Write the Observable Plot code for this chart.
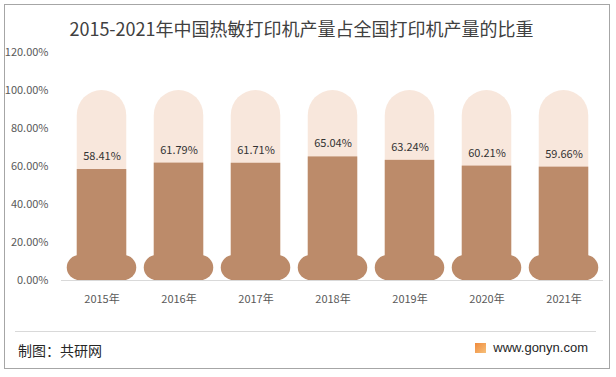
<!DOCTYPE html>
<html>
<head>
<meta charset="utf-8">
<script src="https://cdn.jsdelivr.net/npm/d3@7"></script>
<script src="https://cdn.jsdelivr.net/npm/@observablehq/plot@0.6"></script>
<style>
  body { margin: 0; background: #fff; font-family: "Noto Sans CJK SC", sans-serif; }
  #wrap { position: relative; width: 616px; height: 377px; overflow: hidden; background: #fff; }
  #frame { position: absolute; left: 4px; top: 4px; width: 606px; height: 365px; border: 1px solid #a6a6a6; box-sizing: border-box; }
  #title { position: absolute; left: 0; top: 15px; width: 603px; text-align: center; font-size: 18px; line-height: 26px; color: #404040; }
  #chart { position: absolute; left: 0; top: 40px; }
  #sep { position: absolute; left: 15px; top: 331px; width: 581px; border-top: 1px solid #d9d9d9; }
  #credit { position: absolute; left: 18px; top: 340px; font-size: 14px; line-height: 20px; color: #262626; }
  #site { position: absolute; right: 28px; top: 339px; font-size: 13px; line-height: 18px; color: #262626; font-family: "Liberation Sans", Arial, sans-serif; display: flex; align-items: center; }
  #logo { width: 11px; height: 10px; margin-right: 7px; background: linear-gradient(135deg, #f08a3c, #f6c07a); }
</style>
</head>
<body>
<div id="wrap">
  <div id="frame"></div>
  <div id="title">2015-2021年中国热敏打印机产量占全国打印机产量的比重</div>
  <div id="chart"></div>
  <div id="sep"></div>
  <div id="credit">制图：共研网</div>
  <div id="site"><span id="logo"></span>www.gonyn.com</div>
</div>
<script>
const years = ["2015年", "2016年", "2017年", "2018年", "2019年", "2020年", "2021年"];
const shares = [58.41, 61.79, 61.71, 65.04, 63.24, 60.21, 59.66];
const capacity = 100;
const yTicks = [0, 0.2, 0.4, 0.6, 0.8, 1.0, 1.2];

const brown = "#bc8b6a";
const pink = "#f8e7dc";

const data = years.map((year, i) => ({ year, share: shares[i] / 100, full: capacity / 100 }));

const chart = Plot.plot({
  width: 616,
  height: 280,
  marginTop: 12,
  marginBottom: 40,
  marginLeft: 61,
  marginRight: 13,
  style: { fontSize: "11px", fontFamily: "'Noto Sans CJK SC', sans-serif", color: "#595959", background: "transparent" },
  x: { domain: years, padding: 0, tickSize: 0, tickPadding: 15, label: null },
  y: { domain: [0, 1.2], ticks: yTicks, tickFormat: d3.format(".2%"), tickSize: 0, tickPadding: 13, label: null },
  marks: [
    Plot.ruleY([0], { stroke: "#d9d9d9" }),
    Plot.barY(data, { x: "year", y: "full", fill: pink, insetLeft: 13.75, insetRight: 13.75, rx: 25 }),
    Plot.barY(data, { x: "year", y: "share", fill: brown, insetLeft: 13.75, insetRight: 13.75 }),
    Plot.barY(data, { x: "year", y1: 0, y2: 0, insetTop: -25, fill: brown, insetLeft: 3.75, insetRight: 3.75, rx: 12.5 }),
    Plot.text(data, { x: "year", y: "share", text: d => d3.format(".2%")(d.share), dy: -13, fill: "#333333", fontSize: 11 })
  ]
});
document.getElementById("chart").appendChild(chart);
</script>
</body>
</html>
